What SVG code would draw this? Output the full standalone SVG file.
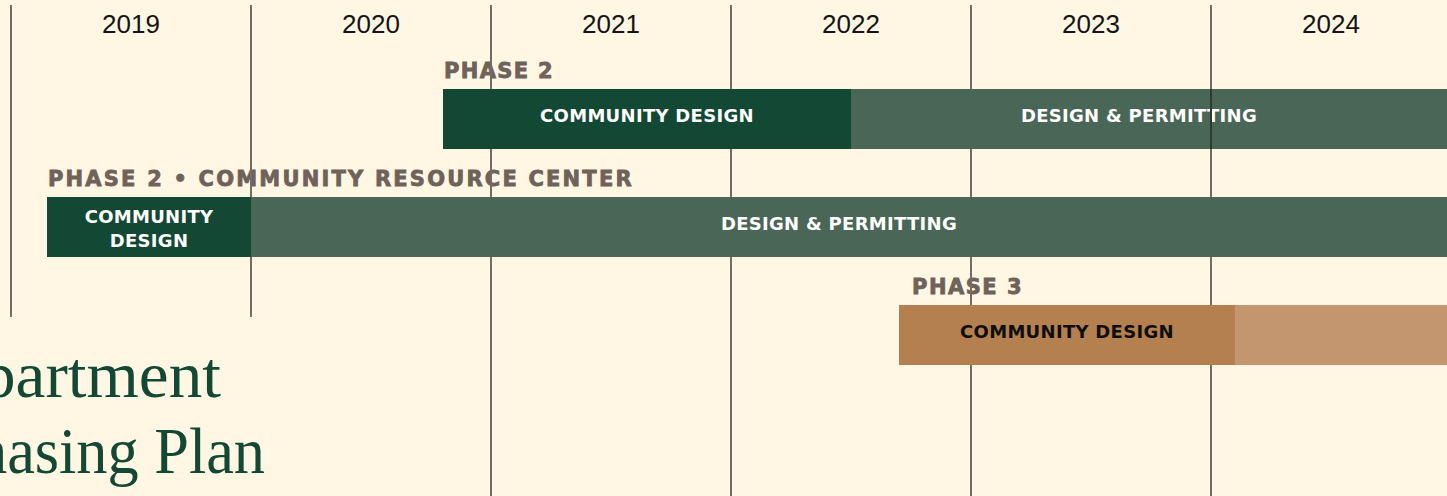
<svg xmlns="http://www.w3.org/2000/svg" width="1447" height="496" viewBox="0 0 1447 496">
  <style>
    .year { font-family: "Liberation Sans", Arial, sans-serif; font-size: 26px; fill: #141414; text-anchor: middle; }
    .phase { font-family: "DejaVu Sans", "Liberation Sans", sans-serif; font-weight: 700; font-size: 21px; fill: #6F625A; stroke: #6F625A; stroke-width: 0.8px; letter-spacing: 2.4px; }
    .bar-label { font-family: "DejaVu Sans", "Liberation Sans", sans-serif; font-weight: 700; font-size: 18px; text-anchor: middle; letter-spacing: 0.3px; }
    .on-green { fill: #FFFFFF; }
    .on-brown { fill: #0E0E0E; }
    .grid { stroke: #776B63; stroke-width: 2; }
    .title { font-family: "Liberation Serif", "Times New Roman", serif; font-size: 66px; fill: #124834; }
  </style>

  <rect x="0" y="0" width="1447" height="496" fill="#FFF6E3"/>

  <!-- year headings -->
  <g id="years">
    <text class="year" x="131" y="33">2019</text>
    <text class="year" x="371" y="33">2020</text>
    <text class="year" x="611" y="33">2021</text>
    <text class="year" x="851" y="33">2022</text>
    <text class="year" x="1091" y="33">2023</text>
    <text class="year" x="1331" y="33">2024</text>
  </g>

  <!-- phase captions -->
  <g id="captions">
    <text class="phase" x="444" y="78" textLength="111">PHASE 2</text>
    <text class="phase" x="48" y="186" textLength="586">PHASE 2 • COMMUNITY RESOURCE CENTER</text>
    <text class="phase" x="912" y="294" textLength="112">PHASE 3</text>
  </g>

  <!-- year dividers -->
  <g id="connectors">
    <line class="grid" x1="11" y1="5" x2="11" y2="317"/>
    <line class="grid" x1="251" y1="5" x2="251" y2="317"/>
    <line class="grid" x1="491" y1="5" x2="491" y2="496"/>
    <line class="grid" x1="731" y1="5" x2="731" y2="496"/>
    <line class="grid" x1="971" y1="5" x2="971" y2="496"/>
    <line class="grid" x1="1211" y1="5" x2="1211" y2="496"/>
  </g>

  <!-- phase 2 bar -->
  <g id="phase2">
    <rect x="443" y="89" width="408" height="60" fill="#124834"/>
    <rect x="851" y="89" width="596" height="60" fill="#4A6657"/>
    <text class="bar-label on-green" x="647" y="122">COMMUNITY DESIGN</text>
    <text class="bar-label on-green" x="1139" y="122">DESIGN &amp; PERMITTING</text>
    <line x1="1211" y1="89" x2="1211" y2="149" stroke="#2C3A33" stroke-width="2"/>
  </g>

  <!-- phase 2 community resource center bar -->
  <g id="phase2-crc">
    <rect x="47" y="197" width="204" height="60" fill="#124834"/>
    <rect x="251" y="197" width="1196" height="60" fill="#4A6657"/>
    <text class="bar-label on-green" x="149" y="223">COMMUNITY</text>
    <text class="bar-label on-green" x="149" y="247">DESIGN</text>
    <text class="bar-label on-green" x="839" y="230">DESIGN &amp; PERMITTING</text>
  </g>

  <!-- phase 3 bar -->
  <g id="phase3">
    <rect x="899" y="305" width="336" height="60" fill="#B4804F"/>
    <rect x="1235" y="305" width="212" height="60" fill="#C4966F"/>
    <text class="bar-label on-brown" x="1067" y="338">COMMUNITY DESIGN</text>
  </g>

  <!-- title -->
  <g id="title">
    <text class="title" x="-18" y="397" textLength="239" lengthAdjust="spacingAndGlyphs">partment</text>
    <text class="title" x="-24" y="473" textLength="289" lengthAdjust="spacingAndGlyphs">hasing Plan</text>
  </g>
</svg>
